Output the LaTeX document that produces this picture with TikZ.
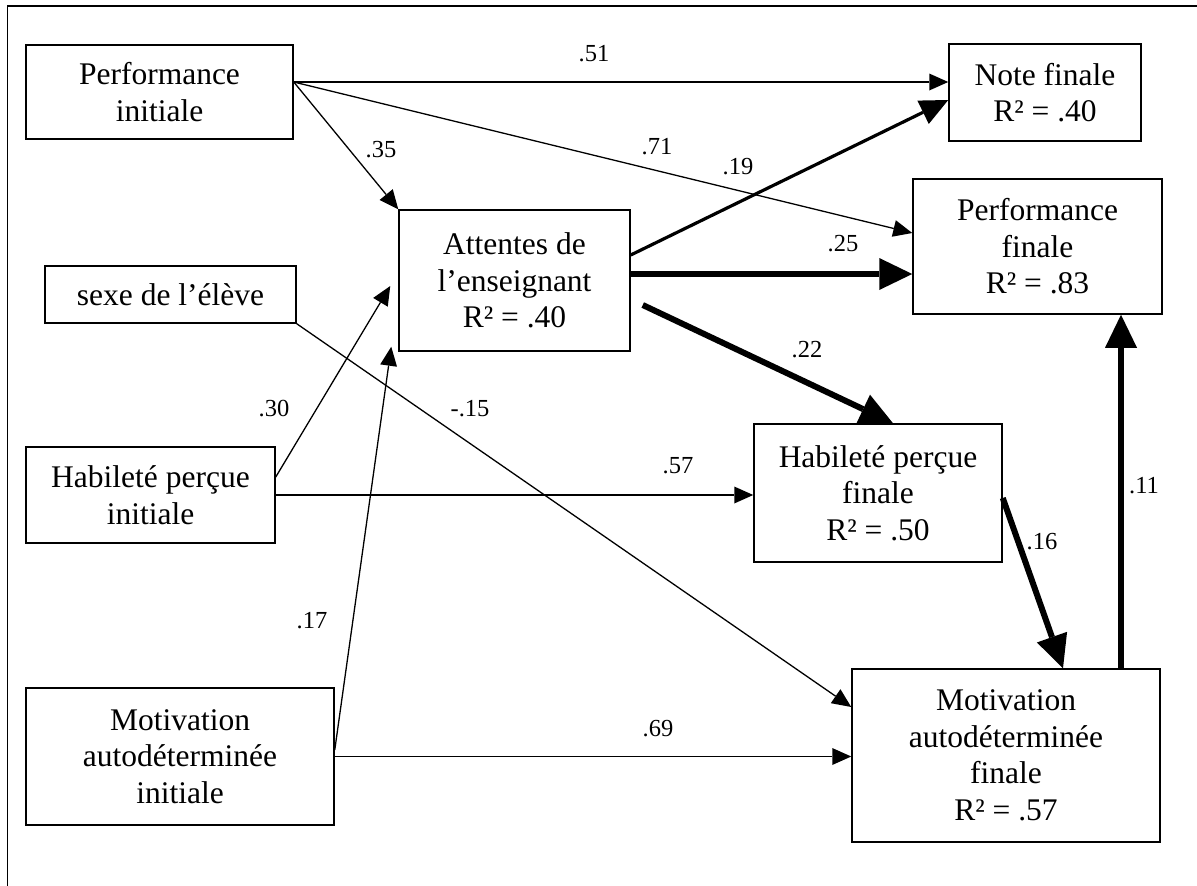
\documentclass[tikz,border=0pt]{standalone}
\usepackage{fontspec}
\setmainfont{Liberation Serif}
\usetikzlibrary{arrows.meta}
\begin{document}
\begin{tikzpicture}[x=1pt,y=-1pt,
  box/.style={draw,line width=1.5pt,inner sep=0pt,align=center,font=\fontsize{31.5}{36.5}\selectfont},
  lab/.style={inner sep=0pt,anchor=base,font=\fontsize{24.5}{28}\selectfont},
  arrthin/.style={line width=1.3pt,-{Triangle[length=19pt,width=17pt,line width=0pt]}},
  arrmid/.style={line width=3.2pt,-{Triangle[length=28pt,width=26pt,line width=0pt]}},
  arrthick/.style={line width=6pt,-{Triangle[length=33pt,width=32pt,line width=0pt]}}]
\useasboundingbox (0,0) rectangle (1197,886);
\draw[line width=1.5pt] (7.5,886) -- (7.5,6) -- (1197,6);

\node[box,minimum width=267pt,minimum height=94pt] (pi) at (159.5,92) {Performance\\initiale};
\node[box,minimum width=251pt,minimum height=57pt] (sx) at (170.5,294.5) {sexe de l’élève};
\node[box,minimum width=231pt,minimum height=141pt] (at) at (514.5,280.5) {Attentes de\\l’enseignant\\R² = .40};
\node[box,minimum width=192pt,minimum height=97pt] (nf) at (1045,92.5) {Note finale\\R² = .40};
\node[box,minimum width=249pt,minimum height=135pt] (pf) at (1037.5,246.5) {Performance\\finale\\R² = .83};
\node[box,minimum width=249pt,minimum height=96pt] (hi) at (150.5,495) {Habileté perçue\\initiale};
\node[box,minimum width=248pt,minimum height=138pt] (hf) at (878,493) {Habileté perçue\\finale\\R² = .50};
\node[box,minimum width=308pt,minimum height=137pt] (mi) at (180,756.5) {Motivation\\autodéterminée\\initiale};
\node[box,minimum width=308pt,minimum height=173pt] (mf) at (1006,755.5) {Motivation\\autodéterminée\\finale\\R² = .57};

\draw[arrthin] ([yshift=10pt]pi.east) -- ([yshift=10.5pt]nf.west);
\draw[arrthin] ([yshift=10pt]pi.east) -- ([yshift=13.5pt]pf.west);
\draw[arrthin] ([yshift=10pt]pi.east) -- (at.north west);
\draw[arrmid] ([yshift=25.5pt]at.east) -- ([yshift=-7.5pt]nf.west);
\draw[arrthick] ([yshift=6.5pt]at.east) -- ([yshift=-27.5pt]pf.west);
\draw[arrthick] ([xshift=12pt,yshift=-24.5pt]at.east) -- ([xshift=15pt]hf.north);
\draw[arrthin] (sx.south east) -- ([yshift=48.5pt]mf.west);
\draw[arrthin] ([yshift=18pt]hi.east) -- ([xshift=-8pt,yshift=-5.5pt]at.west);
\draw[arrthin] (hi.east) -- (hi.east -| hf.west);
\draw[arrthin] ([yshift=6.5pt]mi.east) -- ([xshift=-7pt,yshift=5pt]at.south west);
\draw[arrthin] (mi.east) -- (mi.east -| mf.west);
\draw[arrthick] ([yshift=-5pt]hf.east) -- ([xshift=57pt]mf.north);
\coordinate (m11) at ([xshift=115pt]mf.north);
\draw[arrthick] (m11) -- (m11 |- pf.south);

\node[lab] (l51) at (594,61) {.51};
\node[lab] (l35) at (381,157) {.35};
\node[lab] (l71) at (657,154) {.71};
\node[lab] (l19) at (738,174) {.19};
\node[lab] (l25) at (843,251) {.25};
\node[lab] (l22) at (807,357) {.22};
\node[lab] (l15) at (470,416) {-.15};
\node[lab] (l30) at (274,416) {.30};
\node[lab] (l57) at (678,473) {.57};
\node[lab] (l17) at (312,628) {.17};
\node[lab] (l69) at (658,736) {.69};
\node[lab] (l16) at (1042,549) {.16};
\node[lab] (l11) at (1144,493) {.11};
\end{tikzpicture}
\end{document}
